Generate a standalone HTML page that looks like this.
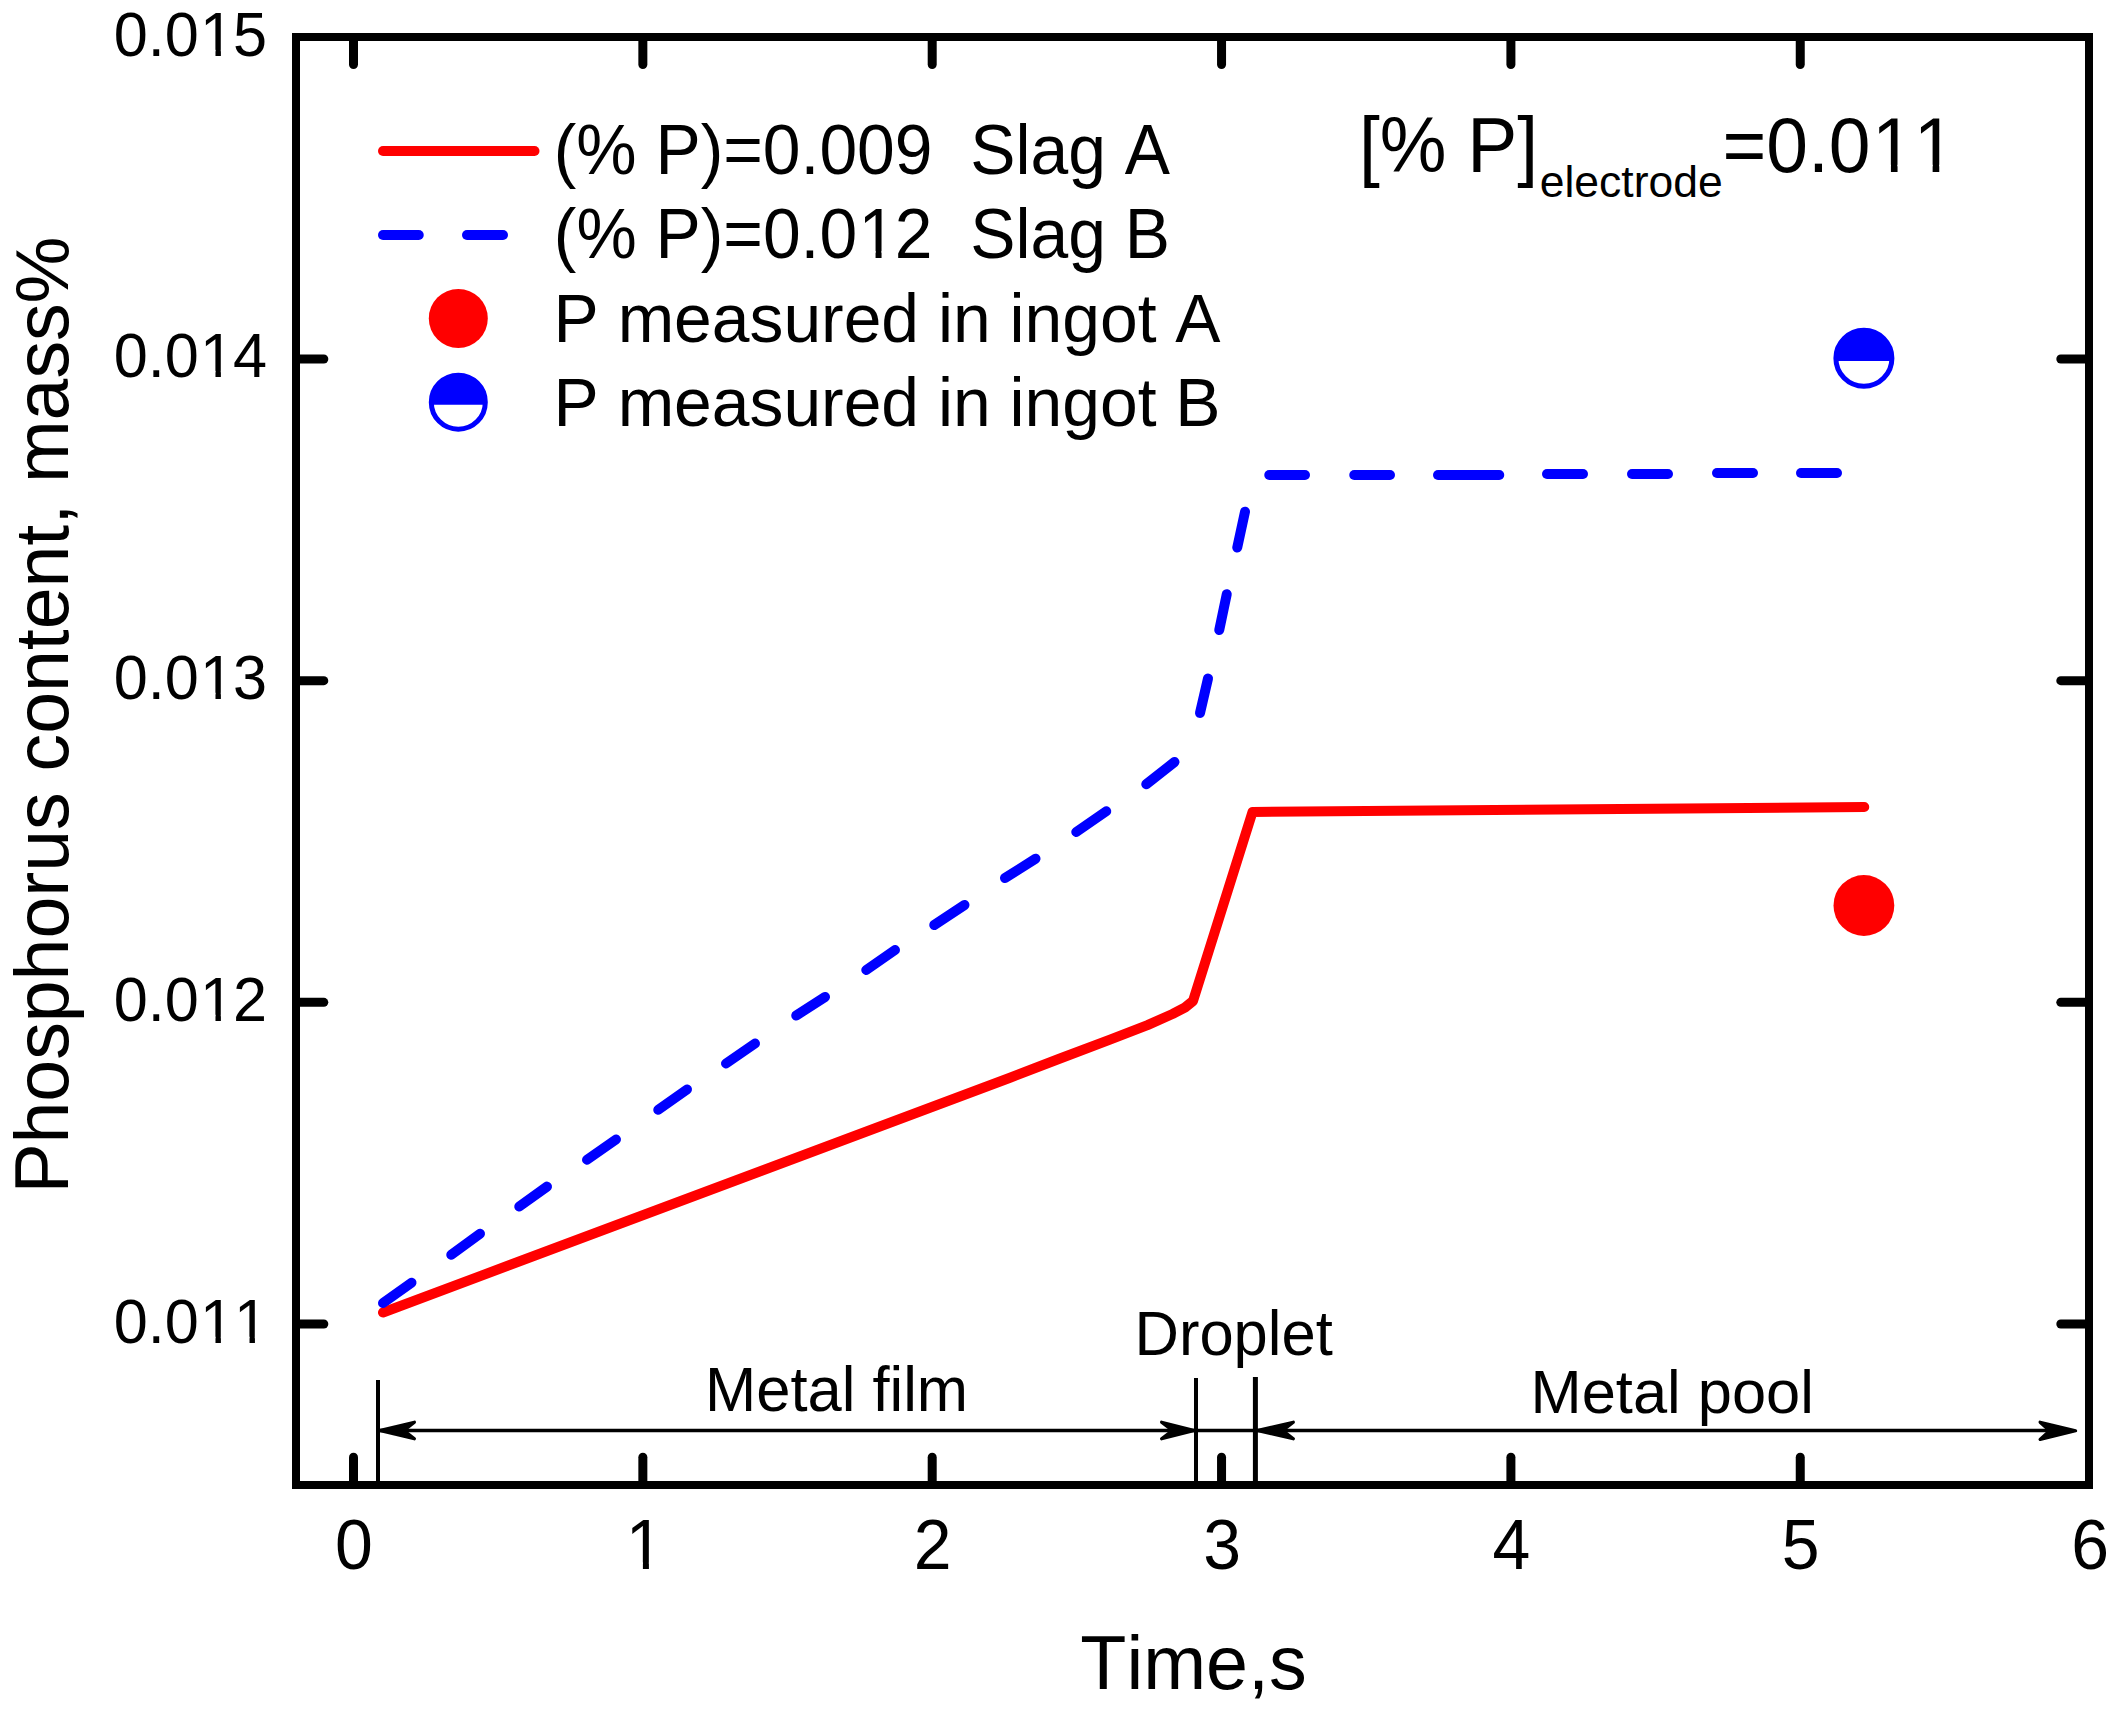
<!DOCTYPE html>
<html lang="en"><head><meta charset="utf-8"><title>Phosphorus content vs time</title>
<style>html,body{margin:0;padding:0;background:#fff}body{width:2117px;height:1713px;overflow:hidden}svg{display:block}text{font-family:"Liberation Sans",sans-serif;fill:#000;font-kerning:none}</style>
</head><body>
<svg width="2117" height="1713" viewBox="0 0 2117 1713">
<rect x="0" y="0" width="2117" height="1713" fill="#fff"/>
<text transform="translate(113.80,1342.80) scale(1,1.04)" font-size="61.2" dx="0 0 0 1.22 0.0">0.011</text>
<text transform="translate(113.80,1020.80) scale(1,1.04)" font-size="61.2" dx="0 0 0 1.22 -1.22">0.012</text>
<text transform="translate(113.80,698.80) scale(1,1.04)" font-size="61.2" dx="0 0 0 1.22 -1.22">0.013</text>
<text transform="translate(113.80,376.90) scale(1,1.04)" font-size="61.2" dx="0 0 0 1.22 -1.22">0.014</text>
<text transform="translate(113.80,55.90) scale(1,1.04)" font-size="61.2" dx="0 0 0 1.22 -1.22">0.015</text>
<text transform="translate(354.00,1569.20) scale(1,1.045)" font-size="68" text-anchor="middle">0</text>
<text transform="translate(643.35,1569.20) scale(1,1.045)" font-size="68" text-anchor="middle" dx="1.36">1</text>
<text transform="translate(932.70,1569.20) scale(1,1.045)" font-size="68" text-anchor="middle">2</text>
<text transform="translate(1222.05,1569.20) scale(1,1.045)" font-size="68" text-anchor="middle">3</text>
<text transform="translate(1511.40,1569.20) scale(1,1.045)" font-size="68" text-anchor="middle">4</text>
<text transform="translate(1800.75,1569.20) scale(1,1.045)" font-size="68" text-anchor="middle">5</text>
<text transform="translate(2090.10,1569.20) scale(1,1.045)" font-size="68" text-anchor="middle">6</text>
<text transform="translate(1080.30,1689.00) scale(1,1.01)" font-size="75.5">Time,s</text>
<text transform="translate(68.00,1193.60) rotate(-90) scale(1,1.01)" font-size="75.2">Phosphorus content, mass%</text>
<text transform="translate(553.80,173.75) scale(1,1.03)" font-size="67.8" xml:space="preserve">(% P)=0.009  Slag A</text>
<text transform="translate(553.80,257.60) scale(1,1.03)" font-size="67.8" dx="0 0 0 0 0 0 0 0 0 1.36 -1.36 0 0 0 0 0 0 0 0" xml:space="preserve">(% P)=0.012  Slag B</text>
<text transform="translate(553.60,341.90) scale(1,1.01)" font-size="67.8">P measured in ingot A</text>
<text transform="translate(553.60,425.60) scale(1,1.01)" font-size="67.8">P measured in ingot B</text>
<text transform="translate(1359.00,172.20) scale(1,1.04)" font-size="75">[% P]</text>
<text transform="translate(1539.70,197.00) scale(1,0.99)" font-size="44.5">electrode</text>
<text transform="translate(1722.50,172.20) scale(1,1.04)" font-size="75" dx="0 0 0 0 1.5 0.0">=0.011</text>
<text transform="translate(705.00,1411.25) scale(1,1.01)" font-size="61.5">Metal film</text>
<text transform="translate(1134.50,1355.00) scale(1,1.01)" font-size="61.5">Droplet</text>
<text transform="translate(1530.60,1412.50) scale(1,1.01)" font-size="61.4">Metal pool</text>
<rect x="203.38" y="1336.74" width="12.10" height="9.06" fill="#fff"/>
<rect x="220.89" y="1336.74" width="11.62" height="9.06" fill="#fff"/>
<rect x="237.42" y="1336.74" width="12.10" height="9.06" fill="#fff"/>
<rect x="254.93" y="1336.74" width="11.62" height="9.06" fill="#fff"/>
<rect x="203.38" y="1014.74" width="12.10" height="9.06" fill="#fff"/>
<rect x="220.89" y="1014.74" width="11.62" height="9.06" fill="#fff"/>
<rect x="203.38" y="692.74" width="12.10" height="9.06" fill="#fff"/>
<rect x="220.89" y="692.74" width="11.62" height="9.06" fill="#fff"/>
<rect x="203.38" y="370.84" width="12.10" height="9.06" fill="#fff"/>
<rect x="220.89" y="370.84" width="11.62" height="9.06" fill="#fff"/>
<rect x="203.38" y="49.84" width="12.10" height="9.06" fill="#fff"/>
<rect x="220.89" y="49.84" width="11.62" height="9.06" fill="#fff"/>
<rect x="629.45" y="1562.43" width="13.45" height="9.77" fill="#fff"/>
<rect x="648.91" y="1562.43" width="12.92" height="9.77" fill="#fff"/>
<rect x="862.15" y="250.95" width="13.41" height="9.65" fill="#fff"/>
<rect x="881.55" y="250.95" width="12.88" height="9.65" fill="#fff"/>
<rect x="1876.09" y="164.77" width="14.83" height="10.43" fill="#fff"/>
<rect x="1897.55" y="164.77" width="14.25" height="10.43" fill="#fff"/>
<rect x="1917.80" y="164.77" width="14.83" height="10.43" fill="#fff"/>
<rect x="1939.26" y="164.77" width="14.25" height="10.43" fill="#fff"/>
<rect x="296.0" y="37.0" width="1793.0" height="1448.0" fill="none" stroke="#000" stroke-width="8"/>
<g stroke="#000" stroke-width="9" stroke-linecap="round">
<line x1="353.5" y1="38.0" x2="353.5" y2="64.6"/>
<line x1="353.5" y1="1484.0" x2="353.5" y2="1457.2"/>
<line x1="642.85" y1="38.0" x2="642.85" y2="64.6"/>
<line x1="642.85" y1="1484.0" x2="642.85" y2="1457.2"/>
<line x1="932.2" y1="38.0" x2="932.2" y2="64.6"/>
<line x1="932.2" y1="1484.0" x2="932.2" y2="1457.2"/>
<line x1="1221.55" y1="38.0" x2="1221.55" y2="64.6"/>
<line x1="1221.55" y1="1484.0" x2="1221.55" y2="1457.2"/>
<line x1="1510.9" y1="38.0" x2="1510.9" y2="64.6"/>
<line x1="1510.9" y1="1484.0" x2="1510.9" y2="1457.2"/>
<line x1="1800.25" y1="38.0" x2="1800.25" y2="64.6"/>
<line x1="1800.25" y1="1484.0" x2="1800.25" y2="1457.2"/>
<line x1="297.0" y1="1324.0" x2="323.8" y2="1324.0"/>
<line x1="2088.0" y1="1324.0" x2="2060.8" y2="1324.0"/>
<line x1="297.0" y1="1002.33" x2="323.8" y2="1002.33"/>
<line x1="2088.0" y1="1002.33" x2="2060.8" y2="1002.33"/>
<line x1="297.0" y1="680.66" x2="323.8" y2="680.66"/>
<line x1="2088.0" y1="680.66" x2="2060.8" y2="680.66"/>
<line x1="297.0" y1="358.99" x2="323.8" y2="358.99"/>
<line x1="2088.0" y1="358.99" x2="2060.8" y2="358.99"/>
</g>
<path d="M383,1312.5 L1010,1077.8 L1060,1058.5 L1110,1039.6 L1147.5,1025.1 L1172.5,1014 L1185,1007.5 L1193,1001 L1252.5,812 L1864.25,807" fill="none" stroke="#f00" stroke-width="10" stroke-linecap="round" stroke-linejoin="round"/>
<g stroke="#00f" stroke-width="10" stroke-linecap="round" fill="none">
<line x1="383" y1="1303" x2="411.5" y2="1282.75"/>
<line x1="451.25" y1="1254.75" x2="480" y2="1233.75"/>
<line x1="519.25" y1="1206.5" x2="547" y2="1186.6"/>
<line x1="587" y1="1159.75" x2="616" y2="1139.5"/>
<line x1="658.25" y1="1109.75" x2="687" y2="1089.5"/>
<line x1="726" y1="1063.5" x2="755" y2="1043.5"/>
<line x1="796.25" y1="1015.5" x2="825" y2="997"/>
<line x1="866.25" y1="970" x2="895" y2="950"/>
<line x1="934.25" y1="925" x2="964.5" y2="905"/>
<line x1="1005" y1="878" x2="1035.5" y2="858.75"/>
<line x1="1076.25" y1="832" x2="1106.25" y2="811.25"/>
<line x1="1146.25" y1="784.25" x2="1174.5" y2="762"/>
<line x1="1200" y1="713" x2="1208" y2="678.5"/>
<line x1="1219.25" y1="630" x2="1226.75" y2="594.25"/>
<line x1="1237.25" y1="547.5" x2="1245" y2="511.75"/>
<line x1="1269.25" y1="475" x2="1305" y2="475"/>
<line x1="1354.25" y1="475" x2="1390" y2="475"/>
<line x1="1438" y1="475" x2="1499.25" y2="475"/>
<line x1="1547" y1="474" x2="1583" y2="474"/>
<line x1="1632" y1="474" x2="1668" y2="474"/>
<line x1="1717" y1="473" x2="1753" y2="473"/>
<line x1="1801" y1="473" x2="1837" y2="473"/>
</g>
<circle cx="1863.9" cy="905.5" r="30.4" fill="#f00"/>
<circle cx="1863.9" cy="358.25" r="28.0" fill="#fff" stroke="#00f" stroke-width="5"/><path d="M1836.03,360.9 A28.0,28.0 0 1 1 1891.77,360.9 Z" fill="#00f"/>
<line x1="383" y1="151" x2="534.5" y2="151" stroke="#f00" stroke-width="10" stroke-linecap="round"/>
<g stroke="#00f" stroke-width="10" stroke-linecap="round"><line x1="383" y1="235" x2="418.75" y2="235"/><line x1="467" y1="235" x2="503" y2="235"/></g>
<circle cx="458.3" cy="318.4" r="29.5" fill="#f00"/>
<circle cx="458.3" cy="402.2" r="27.0" fill="#fff" stroke="#00f" stroke-width="5"/><path d="M431.42,404.75 A27.0,27.0 0 1 1 485.18,404.75 Z" fill="#00f"/>
<g stroke="#000" fill="none">
<line x1="378" y1="1380" x2="378" y2="1485" stroke-width="4"/>
<line x1="1196" y1="1378" x2="1196" y2="1485" stroke-width="4"/>
<line x1="1255.4" y1="1377" x2="1255.4" y2="1485" stroke-width="5"/>
<line x1="380" y1="1430.5" x2="2050" y2="1430.5" stroke-width="3.3"/>
</g>
<path d="M379.60,1430.5 L414.40,1422.20 L403.95,1430.5 L414.40,1438.80 Z" fill="#000" stroke="#000" stroke-width="3.2" stroke-linejoin="round"/>
<path d="M1194.40,1430.5 L1161.60,1422.20 L1172.45,1430.5 L1161.60,1438.80 Z" fill="#000" stroke="#000" stroke-width="3.2" stroke-linejoin="round"/>
<path d="M1257.10,1430.5 L1293.30,1422.20 L1282.75,1430.5 L1293.30,1438.80 Z" fill="#000" stroke="#000" stroke-width="3.2" stroke-linejoin="round"/>
<path d="M2075.60,1430.8 L2040.10,1422.20 L2049.65,1430.8 L2040.10,1439.40 Z" fill="#000" stroke="#000" stroke-width="3.2" stroke-linejoin="round"/>
</svg>
</body></html>
